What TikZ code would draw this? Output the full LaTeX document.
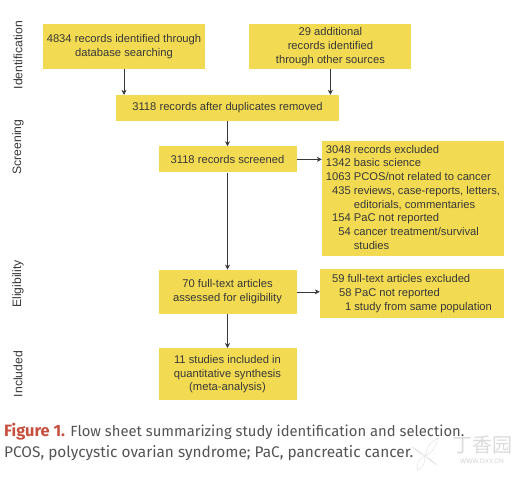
\documentclass[tikz,border=0pt]{standalone}
\usepackage{fontspec}
\setmainfont{Liberation Sans}
\newfontfamily\captionfont{Fira Sans}
\newfontfamily\cjkfont{Noto Sans CJK SC}
\usepackage{array}
\usetikzlibrary{arrows.meta,calc,positioning}
\definecolor{boxyellow}{rgb}{0.95,0.86,0.32}
\definecolor{inkgrey}{rgb}{0.22,0.22,0.22}
\definecolor{figurered}{rgb}{0.78,0.31,0.24}
\definecolor{captiongrey}{rgb}{0.33,0.33,0.33}
\tikzset{
  caja/.style={
    fill=boxyellow,
    align=center,
    text=inkgrey,
    inner sep=0pt,
    font=\fontsize{11.2}{13.7}\selectfont
  },
  etapa/.style={
    rotate=90,
    text=inkgrey,
    inner sep=0pt,
    font=\fontsize{12.2}{13}\selectfont
  },
  leyenda/.style={
    anchor=base west,
    inner sep=0pt,
    text=captiongrey,
    font=\captionfont\fontsize{14.8}{18}\selectfont
  },
  arrow/.style={
    -{Stealth[length=5pt,width=5pt]},
    semithick,
    inkgrey
  }
}
\newcommand{\filas}[1]{\begin{tabular}{@{}r@{\hspace{3pt}}l@{}}#1\end{tabular}}

\begin{document}
\begin{tikzpicture}[x=1pt,y=-1pt]
\useasboundingbox (0,0) rectangle (524,479);
\node[caja,minimum width=162pt,minimum height=45pt] (ident) at (124,46.5) {4834 records identified through\\database searching};
\node[caja,minimum width=162pt,minimum height=45pt,right=44pt of ident] (otras) {29 additional\\records identified\\through other sources};
\node[caja,minimum width=223pt,minimum height=26pt] (dupl) at (227.5,108) {3118 records after duplicates removed};
\node[caja,minimum width=138pt,minimum height=26pt,below=25pt of dupl] (scr) {3118 records screened};
\node[caja,minimum width=182pt,minimum height=115pt] (excl) at (413,198.5) {\filas{3048 & records excluded\\
1342 & basic science\\
1063 & PCOS/not related to cancer\\
435 & reviews, case-reports, letters,\\
 & editorials, commentaries\\
154 & PaC not reported\\
54 & cancer treatment/survival\\
 & studies}};
\node[caja,minimum width=138pt,minimum height=44pt,below=97pt of scr] (full) {70 full-text articles\\assessed for eligibility};
\node[caja,align=left,minimum width=184pt,minimum height=49pt] (excl2) at (412,293.5) {59 full-text articles excluded\\
\hspace{7pt}58 PaC not reported\\
\hspace{13pt}1 study from same population};
\node[caja,minimum width=138pt,minimum height=52pt,below=34pt of full] (incl) {11 studies included in\\quantitative synthesis\\(meta-analysis)};
% etapas
\node[etapa] (e1) at (18,55) {Identification};
\node[etapa] (e2) at (18,147) {Screening};
\node[etapa] (e3) at (18,284) {Eligibility};
\node[etapa] (e4) at (18,374) {Included};
% flechas
\draw[arrow] (ident) -- (ident |- dupl.north);
\draw[arrow] (otras) -- (otras |- dupl.north);
\draw[arrow] (dupl) -- (scr);
\draw[arrow] (scr) -- (full);
\draw[arrow] (full) -- (incl);
\draw[arrow] (scr) -- (scr -| excl.west);
\draw[arrow] (full) -- (full -| excl2.west);
% leyenda
\node[leyenda] (cap1) at (4,436) {\textcolor{figurered}{\fontsize{16.4}{18}\selectfont\textbf{Figure 1.}} Flow sheet summarizing study identification and selection.};
\node[leyenda,font=\captionfont\fontsize{15.4}{18}\selectfont] (cap2) at (4,457) {PCOS, polycystic ovarian syndrome; PaC, pancreatic cancer.};
\node[inner sep=0pt,text=black!14,font=\cjkfont\fontsize{20}{20}\selectfont] (marca) at (482,445) {丁香园};
\node[inner sep=0pt,text=black!18,font=\fontsize{6.5}{6.5}\selectfont] (web) at (482,461) {WWW.DXY.CN};
% flor
\foreach \px/\py in {438/438,412/447,437/465,417/470}
  \draw[black!12,thin] (425,456) .. controls ($(425,456)!.5!(\px,\py)+(3,3)$) .. (\px,\py) .. controls ($(425,456)!.5!(\px,\py)+(-3,-3)$) .. (425,456);
\end{tikzpicture}
\end{document}
